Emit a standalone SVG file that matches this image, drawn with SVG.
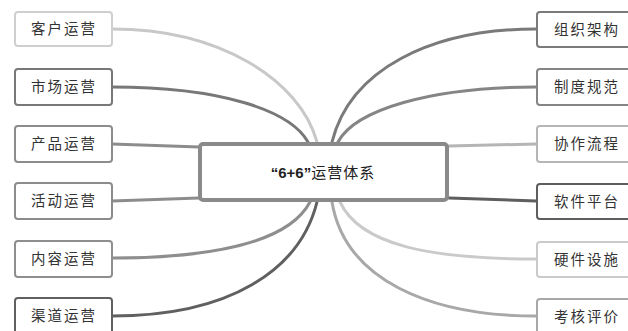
<svg xmlns="http://www.w3.org/2000/svg" width="628" height="331" viewBox="0 0 628 331">
<style>
.box{fill:#fff;stroke-width:2}
.lbl{font-family:"Noto Sans CJK SC","Noto Sans",sans-serif;font-size:14.5px;fill:#333;text-anchor:middle;letter-spacing:2px}
.c{fill:none;stroke-width:3;stroke-linecap:round}
</style>
<rect width="628" height="331" fill="#fff"/>
<g id="connectors">
<path class="c" stroke="#c8c8c8" d="M112,29 C220,29 300,80 317,142"/>
<path class="c" stroke="#787878" d="M112,87 C220,87 290,110 308,142"/>
<path class="c" stroke="#8c8c8c" d="M112,144 L199,147"/>
<path class="c" stroke="#8c8c8c" d="M112,201 L199,198"/>
<path class="c" stroke="#8e8e8e" d="M112,258 C220,258 290,240 310,202"/>
<path class="c" stroke="#606060" d="M112,316 C230,316 300,270 317,202"/>
<path class="c" stroke="#7a7a7a" d="M536,29 C430,29 350,70 332,142"/>
<path class="c" stroke="#858585" d="M536,87 C430,87 355,110 338,142"/>
<path class="c" stroke="#b5b5b5" d="M449,146 L536,144"/>
<path class="c" stroke="#5e5e5e" d="M449,198 L536,201"/>
<path class="c" stroke="#cacaca" d="M340,202 C360,245 430,259 536,259"/>
<path class="c" stroke="#a8a8a8" d="M332,202 C345,280 430,316 536,316"/>
</g>
<g id="center">
<rect x="200" y="144" width="247" height="56" rx="3" fill="#fff" stroke="#8a8a8a" stroke-width="4"/>
<text x="323" y="178" font-family="'Noto Sans CJK SC','Noto Sans',sans-serif" font-size="15" fill="#222" text-anchor="middle"><tspan font-family="'Liberation Sans',sans-serif" font-weight="bold">“6+6”</tspan><tspan letter-spacing="1">运营体系</tspan></text>
</g>
<g id="n1"><rect class="box" x="15" y="12" width="97" height="34" rx="3" stroke="#cfcfcf"/><text class="lbl" x="64" y="34">客户运营</text></g>
<g id="n2"><rect class="box" x="15" y="69" width="97" height="36" rx="3" stroke="#787878"/><text class="lbl" x="64" y="92">市场运营</text></g>
<g id="n3"><rect class="box" x="15" y="126" width="97" height="36" rx="3" stroke="#8c8c8c"/><text class="lbl" x="64" y="149">产品运营</text></g>
<g id="n4"><rect class="box" x="15" y="183" width="97" height="36" rx="3" stroke="#8c8c8c"/><text class="lbl" x="64" y="206">活动运营</text></g>
<g id="n5"><rect class="box" x="15" y="241" width="97" height="36" rx="3" stroke="#8e8e8e"/><text class="lbl" x="64" y="264">内容运营</text></g>
<g id="n6"><rect class="box" x="15" y="298" width="97" height="36" rx="3" stroke="#606060"/><text class="lbl" x="64" y="321">渠道运营</text></g>
<g id="n7"><rect class="box" x="537" y="12" width="97" height="35" rx="3" stroke="#7a7a7a"/><text class="lbl" x="587" y="35">组织架构</text></g>
<g id="n8"><rect class="box" x="537" y="69" width="97" height="36" rx="3" stroke="#858585"/><text class="lbl" x="587" y="92">制度规范</text></g>
<g id="n9"><rect class="box" x="537" y="126" width="97" height="36" rx="3" stroke="#b5b5b5"/><text class="lbl" x="587" y="149">协作流程</text></g>
<g id="n10"><rect class="box" x="537" y="184" width="97" height="35" rx="3" stroke="#5e5e5e"/><text class="lbl" x="587" y="207">软件平台</text></g>
<g id="n11"><rect class="box" x="537" y="242" width="97" height="35" rx="3" stroke="#cacaca"/><text class="lbl" x="587" y="265">硬件设施</text></g>
<g id="n12"><rect class="box" x="537" y="299" width="97" height="36" rx="3" stroke="#a8a8a8"/><text class="lbl" x="587" y="322">考核评价</text></g>
</svg>
